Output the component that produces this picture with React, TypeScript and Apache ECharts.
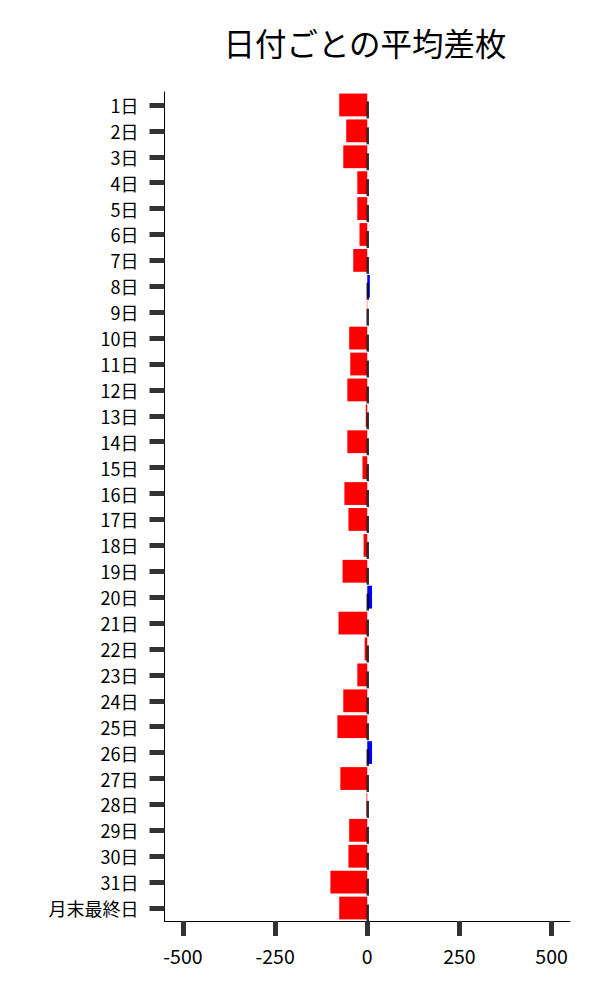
import { useEffect, useRef } from "react";
import * as echarts from "echarts";

const days = [
    "1日", "2日", "3日", "4日", "5日", "6日", "7日", "8日", "9日", "10日",
    "11日", "12日", "13日", "14日", "15日", "16日", "17日", "18日", "19日", "20日",
    "21日", "22日", "23日", "24日", "25日", "26日", "27日", "28日", "29日", "30日",
    "31日", "月末最終日",
];

// 平均差枚
const avgDiff = [
    -76, -57, -65, -27, -27, -21, -38, 7, -1, -49,
    -46, -54, -4, -54, -13, -62, -51, -10, -67, 13,
    -78, -7, -27, -65, -81, 13, -73, -2, -49, -51,
    -100, -76,
];

const xTicks = [-500, -250, 0, 250, 500];

const FONT = "Noto Sans CJK JP";
const TICK = { color: "#333333", width: 5 };

export default function App() {
    const ref = useRef<HTMLDivElement>(null);

    useEffect(() => {
        if (!ref.current) return;
        const chart = echarts.init(ref.current, null, { renderer: "svg" });

        chart.setOption({
            animation: false,
            backgroundColor: "#ffffff",
            textStyle: { fontFamily: FONT },
            graphic: [
                {
                    type: "text",
                    x: 365,
                    y: 42,
                    style: {
                        text: "日付ごとの平均差枚",
                        fontSize: 31.5,
                        fontFamily: FONT,
                        fill: "#000000",
                        textAlign: "center",
                        textVerticalAlign: "middle",
                    },
                },
            ],
            grid: [
                { left: 164.5, right: 30, top: 92, bottom: 79 },
                // tick-only grid spanning exactly -500..500
                { left: 182.9, right: 48.4, top: 92, bottom: 79 },
            ],
            xAxis: [
                {
                    type: "value",
                    min: -550,
                    max: 550,
                    splitLine: { show: false },
                    axisLine: { show: true, onZero: false, lineStyle: { color: "#000000", width: 1 } },
                    axisTick: { show: false },
                    axisLabel: {
                        customValues: xTicks,
                        color: "#000000",
                        fontSize: 19.5,
                        fontFamily: FONT,
                        margin: 25,
                    },
                },
                {
                    type: "value",
                    gridIndex: 1,
                    min: xTicks[0],
                    max: xTicks[xTicks.length - 1],
                    interval: 250,
                    splitLine: { show: false },
                    axisLine: { show: false, onZero: false },
                    axisLabel: { show: false },
                    axisTick: { show: true, length: 15, lineStyle: TICK },
                },
            ],
            yAxis: [
                {
                    type: "category",
                    inverse: true,
                    data: days,
                    axisLine: { show: true, onZero: false, lineStyle: { color: "#000000", width: 1 } },
                    axisTick: {
                        show: true,
                        alignWithLabel: true,
                        length: 15,
                        lineStyle: TICK,
                    },
                    axisLabel: {
                        color: "#000000",
                        fontSize: 18,
                        fontFamily: FONT,
                        margin: 26,
                        interval: 0,
                    },
                },
                { type: "value", gridIndex: 1, show: false },
            ],
            series: [
                {
                    type: "bar",
                    barWidth: "88%",
                    data: avgDiff.map((v) => ({
                        value: v,
                        itemStyle: { color: v >= 0 ? "#0000ff" : "#ff0000" },
                    })),
                },
                {
                    type: "scatter",
                    symbol: "rect",
                    symbolSize: [2.5, 17],
                    symbolOffset: [0.5, 5],
                    itemStyle: { color: "#000000" },
                    z: 5,
                    data: days.map((d) => [0, d]),
                },
            ],
        });

        return () => chart.dispose();
    }, []);

    return (
        <div
            ref={ref}
            style={{ position: "fixed", left: 0, top: 0, width: 600, height: 1000 }}
        />
    );
}
